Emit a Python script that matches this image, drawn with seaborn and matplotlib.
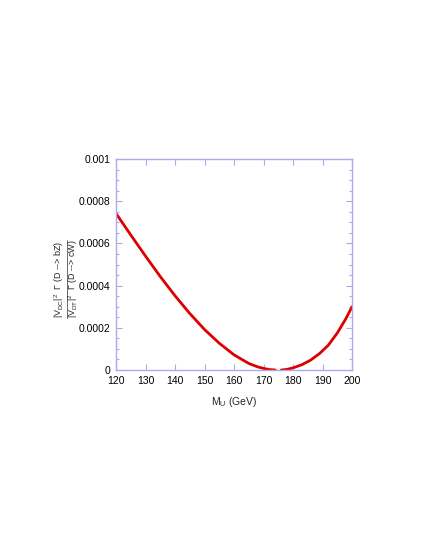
import matplotlib
matplotlib.use("Agg")
import matplotlib.pyplot as plt
import pandas as pd
import seaborn as sns
from matplotlib.lines import Line2D
from matplotlib.ticker import MultipleLocator

# branche gauche (M_U < m_t) et droite (M_U > m_t)
mu_left = [120, 125, 130, 135, 140, 145, 150, 155, 160, 165, 168, 170, 172, 174]
ratio_left = [0.000742, 0.000640, 0.000540, 0.000443, 0.000352, 0.000268, 0.000192,
              0.000127, 0.000072, 0.000031, 0.000015, 0.0000075, 0.000002, 0.0]
mu_right = [176, 178, 180, 183, 186, 189, 192, 195, 198, 200]
ratio_right = [0.0, 0.000003, 0.000010, 0.000025, 0.000047, 0.000078, 0.000118,
               0.000175, 0.000245, 0.000300]

x_ticks = [120, 130, 140, 150, 160, 170, 180, 190, 200]
y_ticks = [0, 0.0002, 0.0004, 0.0006, 0.0008, 0.001]
y_tick_labels = ["0", "0.0002", "0.0004", "0.0006", "0.0008", "0.001"]

num_label = r"|V$_\mathregular{DC}$|$^\mathregular{2}$  Γ (D --> bZ)"
den_label = r"|V$_\mathregular{DT}$|$^\mathregular{2}$  Γ (D --> cW)"

df = pd.concat([
    pd.DataFrame({"mu": mu_left, "ratio": ratio_left, "branche": "gauche"}),
    pd.DataFrame({"mu": mu_right, "ratio": ratio_right, "branche": "droite"}),
])

sns.set_theme(style="ticks")
plt.rcParams["font.family"] = ["Liberation Sans", "DejaVu Sans"]
plt.rcParams["mathtext.fontset"] = "custom"
plt.rcParams["mathtext.rm"] = "Liberation Sans"
plt.rcParams["mathtext.it"] = "Liberation Sans"

axis_col = "#aaaaee"
W, H = 428, 554

fig = plt.figure(figsize=(W / 100, H / 100), dpi=100)
ax = fig.add_axes([116 / W, 1 - 370 / H, 236 / W, 211 / H])

sns.lineplot(data=df, x="mu", y="ratio", units="branche", estimator=None,
             color="#dd0000", linewidth=2.0, ax=ax, legend=False)

ax.set_xlim(120, 200)
ax.set_ylim(0, 0.001)
ax.set_xticks(x_ticks)
ax.set_yticks(y_ticks)
ax.set_yticklabels(y_tick_labels)
ax.yaxis.set_minor_locator(MultipleLocator(0.00005))

for sp in ax.spines.values():
    sp.set_visible(True)
    sp.set_color(axis_col)
    sp.set_linewidth(1.0)
ax.tick_params(which="both", direction="in", top=True, right=True,
               color=axis_col, labelsize=7.5, labelcolor="black", width=0.8)
ax.tick_params(which="major", length=4, pad=4)
ax.tick_params(which="minor", length=2.5)

ax.set_xlabel(r"M$_\mathregular{U}$ (GeV)", fontsize=7.5, labelpad=7)
ax.set_ylabel("")

# étiquette y en fraction : numérateur / trait / dénominateur
yc = 1 - 279 / H
fig.text(59.5 / W, yc, num_label, rotation=90, ha="center", va="center", fontsize=6.5)
fig.text(73.5 / W, yc, den_label, rotation=90, ha="center", va="center", fontsize=6.5)
fig.add_artist(Line2D([66.5 / W, 66.5 / W], [1 - 318 / H, 1 - 240 / H],
                      color="#555555", linewidth=0.6, transform=fig.transFigure))

fig.savefig("out.png", dpi=100)
